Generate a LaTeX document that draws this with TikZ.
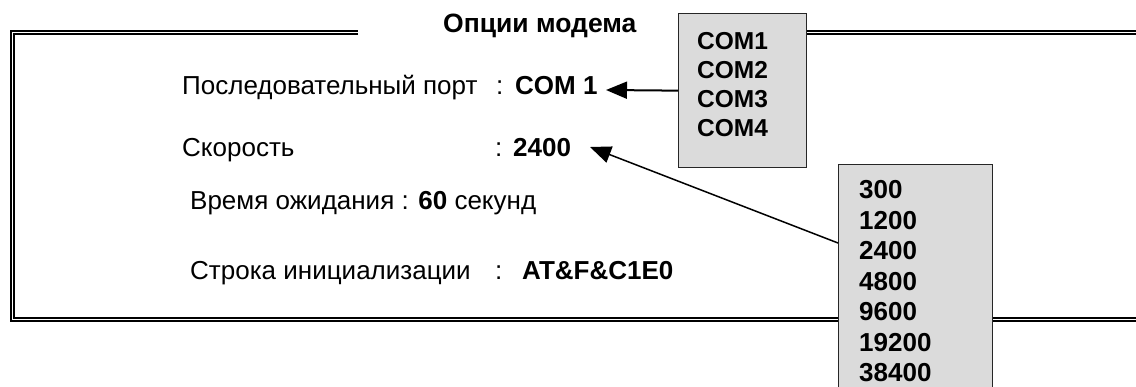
\documentclass[tikz,border=0pt]{standalone}
\usepackage{fontspec}
\setmainfont{Liberation Sans}
\usetikzlibrary{arrows.meta}
\tikzset{
  frameline/.style={double, line width=1.7pt, double distance=1.6pt, line join=miter},
  txt/.style={inner sep=0pt, anchor=base west, font=\fontsize{26}{30}\selectfont},
  valtxt/.style={txt, font=\fontsize{26}{30}\selectfont\bfseries},
  titletxt/.style={txt, font=\fontsize{26.5}{30}\selectfont\bfseries},
  comtxt/.style={txt, font=\fontsize{24.5}{28}\selectfont\bfseries},
  numtxt/.style={txt, font=\fontsize{26}{30}\selectfont\bfseries},
  listbox/.style={draw=black!85, line width=1.3pt, fill=gray!28, inner sep=0pt, anchor=north west},
  arr/.style={-{Triangle[length=21pt,width=17pt]}, line width=2pt},
  arrthin/.style={-{Triangle[length=21pt,width=17pt]}, line width=1.5pt}
}
\begin{document}
\begin{tikzpicture}[x=1pt,y=-1pt]
\useasboundingbox (0,0) rectangle (1136,387);
\clip (0,0) rectangle (1136,387);
\fill[white] (0,0) rectangle (1136,387);

% frame
\draw[frameline] (358,32.5) -- (12.5,32.5) -- (12.5,319.5) -- (1140,319.5);

% title
\node[titletxt] (title) at (443,33) {Опции модема};

% COM list box
\node[listbox, minimum width=128pt, minimum height=154pt] (combox) at (678,13) {};
\draw[frameline] (combox.east |- 0,32.5) -- (1140,32.5);
\foreach \c [count=\i] in {COM1,COM2,COM3,COM4}
  \node[comtxt] (com\i) at (697,{50+29*(\i-1)}) {\c};

% speed list box
\node[listbox, minimum width=154pt, minimum height=260pt] (spbox) at (838,164) {};
\foreach \v [count=\i] in {300,1200,2400,4800,9600,19200,38400}
  \node[numtxt] (sp\i) at (859,{199+30.5*(\i-1)}) {\v};

% option lines
\node[txt] (portlbl) at (182,95) {Последовательный порт};
\node[txt] (portcol) at (496,95) {:};
\node[valtxt] (portval) at (515,95) {COM 1};

\node[txt] (spdlbl) at (182,157) {Скорость};
\node[txt] (spdcol) at (495,157) {:};
\node[valtxt] (spdval) at (513,157) {2400};

\node[txt] (waitlbl) at (190,210) {Время ожидания : \textbf{60} секунд};

\node[txt] (initlbl) at (190,280) {Строка инициализации};
\node[txt] (initcol) at (495,280) {:};
\node[valtxt] (initval) at (522,280) {AT\&F\&C1E0};

% arrows
\coordinate (tip1) at (606,90);
\coordinate (tip2) at (590,147);
\draw[arr] (combox.west) -- (tip1);
\draw[arrthin] ([yshift=-79pt]spbox.north west) -- (tip2);
\end{tikzpicture}
\end{document}
